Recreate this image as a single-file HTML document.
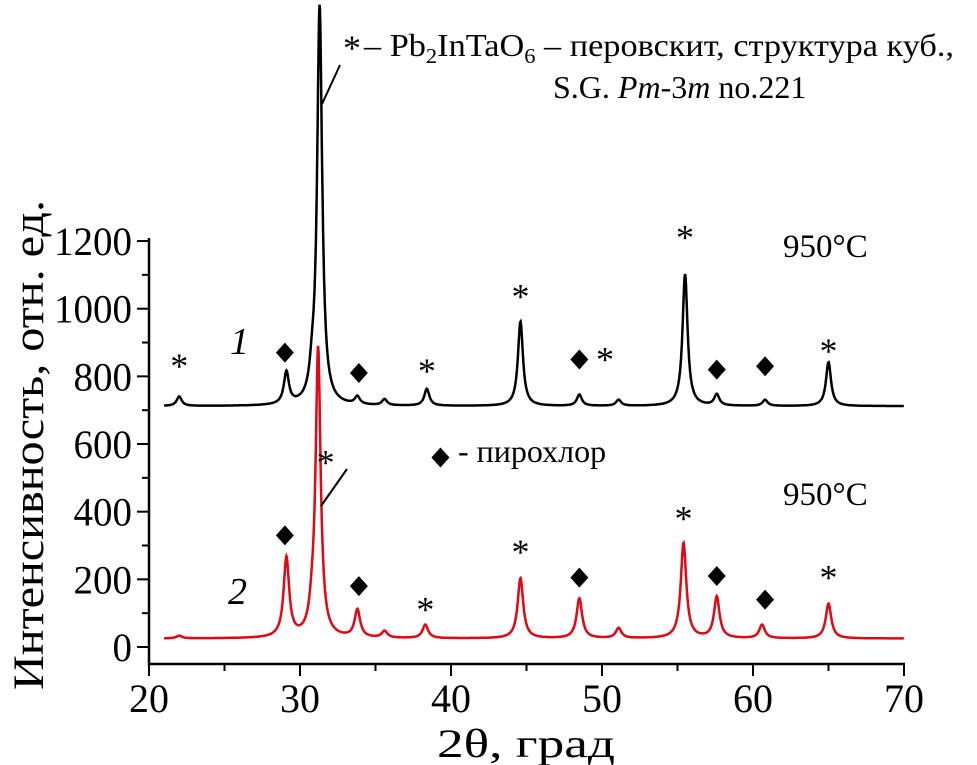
<!DOCTYPE html>
<html><head><meta charset="utf-8"><style>
body{margin:0;background:#fff}
svg{display:block;font-family:"Liberation Serif",serif}
</style></head><body>
<svg id="c" width="977" height="765" viewBox="0 0 977 765">
<g id="axes"></g>
<g id="series"></g>
<g font-size="32">
<text x="343" y="60" font-size="36">*</text>
<text x="364" y="56" textLength="590" lengthAdjust="spacingAndGlyphs">– Pb<tspan font-size="21" dy="7">2</tspan><tspan dy="-7">InTaO</tspan><tspan font-size="21" dy="7">6</tspan><tspan dy="-7"> – перовскит, структура куб.,</tspan></text>
<text x="553" y="98">S.G. <tspan font-style="italic">Pm</tspan>-3<tspan font-style="italic">m</tspan> no.221</text>
<line x1="340" y1="65" x2="322" y2="104" stroke="#000" stroke-width="2"/>
<line x1="347" y1="469" x2="321" y2="506" stroke="#000" stroke-width="2"/>
<text x="783" y="257" font-size="33">950°C</text>
<text x="783" y="505" font-size="33">950°C</text>
<text x="230" y="354" font-size="38" font-style="italic">1</text>
<text x="228" y="604" font-size="38" font-style="italic">2</text>
<text x="458" y="462">- пирохлор</text>
<text x="437" y="757" font-size="40" textLength="178" lengthAdjust="spacingAndGlyphs">2θ, град</text>
<text transform="translate(43,690) rotate(-90)" font-size="43" textLength="490" lengthAdjust="spacingAndGlyphs">Интенсивность, отн. ед.</text>
</g>
<g id="marks"></g>
</svg>
<script>
const xTicks=[20,30,40,50,60,70];
const yTicks=[0,200,400,600,800,1000,1200];
const peaks1=[22.0,29.1,30.8,31.3,33.8,35.6,38.4,44.6,48.5,51.1,55.5,57.6,60.8,65.0];
const heights1=[28,95,60,1180,23,18,50,250,33,18,390,33,18,130];
const base1=712;
const peaks2=[22.0,29.1,30.8,31.2,33.8,35.6,38.3,44.6,48.5,51.1,55.4,57.6,60.6,65.0];
const heights2=[8,235,50,850,82,20,40,178,118,30,282,122,40,103];
const base2=25;
const starsX=[22.0,38.4,44.6,50.2,55.5,65.0,31.7,38.3,44.6,55.4,65.0];
const starsY=[860,845,1065,880,1240,905,575,140,310,410,235];
const diamX=[29.0,33.9,48.5,57.6,60.8,29.0,33.9,48.5,57.6,60.8,39.3];
const diamY=[870,810,850,820,830,330,180,205,210,140,560];
const X=v=>149+(v-20)*15.1;
const Y=v=>647-v*0.3383;
const NS="http://www.w3.org/2000/svg";
function mk(t,a,p){const e=document.createElementNS(NS,t);for(const k in a)e.setAttribute(k,a[k]);p.appendChild(e);return e;}
const ax=document.getElementById('axes');
let e=mk('line',{x1:149,y1:238,x2:149,y2:665,stroke:'#000','stroke-width':2.5},ax);


e=mk('line',{x1:148,y1:664,x2:905,y2:664,stroke:'#000','stroke-width':2.5},ax);


for(let v=20;v<=70;v+=5){const m=v%10===0;mk('line',{x1:X(v),y1:664,x2:X(v),y2:m?676:671,stroke:'#000','stroke-width':2},ax);}
xTicks.forEach(v=>{const t=mk('text',{x:X(v),y:712,'font-size':40,'text-anchor':'middle'},ax);t.textContent=v;

});
for(let v=0;v<=1200;v+=100){const m=v%200===0;mk('line',{x1:m?137:142,y1:Y(v),x2:149,y2:Y(v),stroke:'#000','stroke-width':2},ax);}
yTicks.forEach(v=>{const s=String(v);const w=s.length*19.5;const t=mk('text',{x:132-w,y:Y(v)+14,'font-size':40,textLength:w,lengthAdjust:'spacingAndGlyphs'},ax);t.textContent=v;

});
function curve(px,h,b,w){let d='';for(let x=21;x<=70;x+=0.03){let y=b;px.forEach((p,i)=>{const wd=(h[i]>500?0.2:w);y+=h[i]/(1+((x-p)/wd)**2);});d+=(d?'L':'M')+X(x).toFixed(1)+','+Y(y).toFixed(1);}return d;}
const s=document.getElementById('series');
e=mk('path',{d:curve(peaks1,heights1,base1,0.2),fill:'none',stroke:'#000','stroke-width':2.5},s);


e=mk('path',{d:curve(peaks2,heights2,base2,0.22),fill:'none',stroke:'#e30613','stroke-width':2.5},s);


const mg=document.getElementById('marks');
starsX.forEach((v,i)=>{const t=mk('text',{x:X(v),y:Y(starsY[i])+22,'font-size':36,'text-anchor':'middle'},mg);t.textContent='*';

});
diamX.forEach((v,i)=>{const cx=X(v),cy=Y(diamY[i]);const p=mk('path',{d:`M${cx},${cy-10}L${cx+9},${cy}L${cx},${cy+10}L${cx-9},${cy}Z`,fill:'#000'},mg);

});
</script>
</body></html>
